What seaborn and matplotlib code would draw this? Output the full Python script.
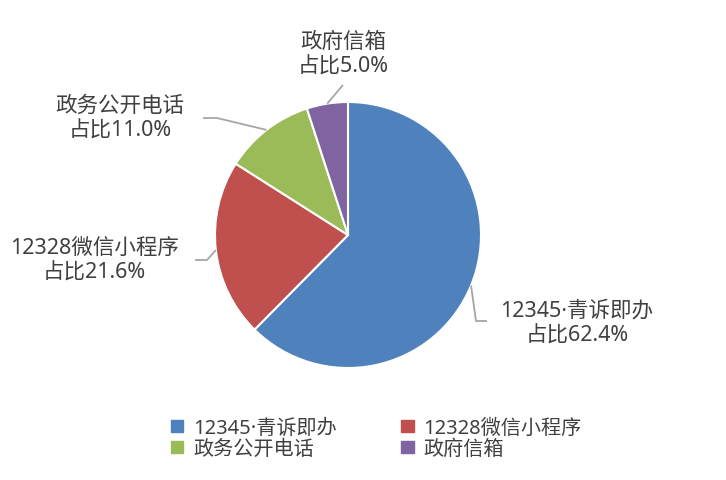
import numpy as np
import matplotlib
matplotlib.use("Agg")
import matplotlib.pyplot as plt
from matplotlib.patches import Patch
import seaborn as sns

categories = ["12345·青诉即办", "12328微信小程序", "政务公开电话", "政府信箱"]
shares = [62.4, 21.6, 11.0, 5.0]
colors = ["#4F81BD", "#C0504D", "#9BBB59", "#8064A2"]

sns.set_theme(style="white")
plt.rcParams["font.family"] = ["Noto Sans", "Noto Sans CJK SC", "DejaVu Sans"]

W, H = 726, 481
fig = plt.figure(figsize=(W / 100, H / 100), dpi=100)
ax = fig.add_axes([0, 0, 1, 1])

cx, cy, r = 348, 236, 133
pal = sns.color_palette(colors)
wedges, _ = ax.pie(shares, colors=pal, startangle=90, counterclock=False,
                   center=(cx, H - cy), radius=r,
                   wedgeprops=dict(edgecolor="white", linewidth=1.5))
ax.set_xlim(0, W)
ax.set_ylim(0, H)
ax.set_aspect("equal")
ax.axis("off")

# label layout: text centre (x, y of the block), leader elbow and end (pixels, top origin)
layout = [
    dict(text=(577, 324), pts=[(476, 322), (487, 322)]),
    dict(text=(94, 261), pts=[(207, 261), (195, 261)]),
    dict(text=(120, 119), pts=[(217, 119), (203, 119)]),
    dict(text=(343, 55), pts=[(343, 86)]),
]

tcol = "#404040"
for w, name, val, lay in zip(wedges, categories, shares, layout):
    mid = np.deg2rad((w.theta1 + w.theta2) / 2)
    sx = cx + r * np.cos(mid)
    sy = cy - r * np.sin(mid)
    xs = [sx] + [p[0] for p in lay["pts"]]
    ys = [H - sy] + [H - p[1] for p in lay["pts"]]
    ax.plot(xs, ys, color="#A6A6A6", linewidth=1.3, solid_capstyle="butt")
    tx, ty = lay["text"]
    ax.text(tx, H - ty, f"{name}\n占比{val:.1f}%", ha="center", va="center",
            fontsize=15.5, color=tcol, linespacing=1.25)

# legend is filled row by row in the reference
order = [0, 2, 1, 3]
handles = [Patch(facecolor=pal[i], edgecolor=pal[i]) for i in order]
labels = [categories[i] for i in order]
fig.legend(handles, labels, ncol=2, loc="upper left",
           bbox_to_anchor=(153 / W, 1 - 401 / H), frameon=False,
           fontsize=14.5, labelcolor=tcol, handlelength=0.6, handleheight=0.6,
           handletextpad=0.5, columnspacing=3.2, labelspacing=0.05)

fig.savefig("out.png", dpi=100)
